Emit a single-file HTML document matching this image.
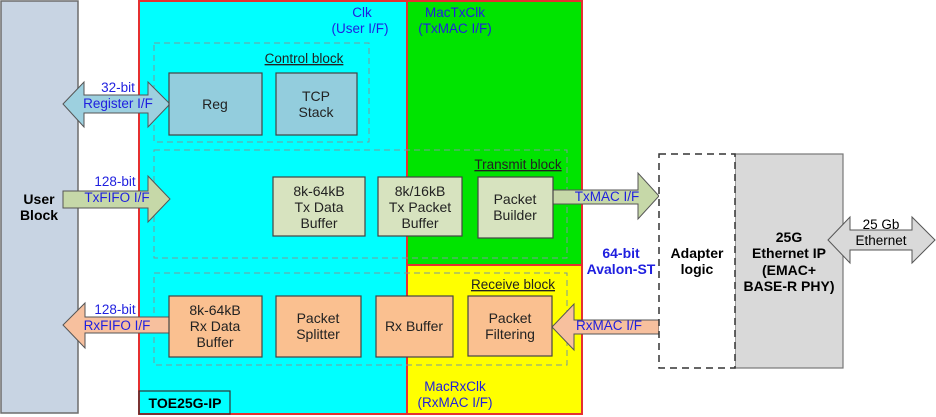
<!DOCTYPE html>
<html><head><style>body{margin:0;background:#fff}svg{display:block;font-family:"Liberation Sans",Arial,sans-serif}</style></head><body>
<svg width="936" height="417" viewBox="0 0 936 417" xmlns="http://www.w3.org/2000/svg">
<rect x="1" y="1" width="77" height="412" fill="#c8d4e3" stroke="#6d6d6d" stroke-width="1.5"/>
<text x="39" y="204" font-size="14" font-weight="bold" text-anchor="middle">User</text>
<text x="39" y="220" font-size="14" font-weight="bold" text-anchor="middle">Block</text>
<rect x="139" y="1" width="268" height="413" fill="#00ffff"/>
<rect x="407" y="1" width="175" height="264" fill="#00e400"/>
<rect x="407" y="265" width="175" height="149" fill="#ffff00"/>
<line x1="407" y1="1" x2="407" y2="414" stroke="#e53030" stroke-width="2"/>
<line x1="407" y1="265" x2="582" y2="265" stroke="#e53030" stroke-width="2"/>
<rect x="139" y="1" width="443" height="413" fill="none" stroke="#e53030" stroke-width="2"/>
<rect x="139" y="391" width="91" height="23" fill="none" stroke="#333" stroke-width="1.2"/>
<text x="185" y="408" font-size="14" font-weight="bold" text-anchor="middle">TOE25G-IP</text>
<g font-size="13.5" fill="#1f1fdf" text-anchor="middle">
<text x="362" y="17">Clk</text><text x="360" y="33">(User I/F)</text>
<text x="455" y="17">MacTxClk</text><text x="455" y="33">(TxMAC I/F)</text>
<text x="455" y="391">MacRxClk</text><text x="455" y="407">(RxMAC I/F)</text>
</g>
<g fill="none" stroke="#7a9a9a" stroke-dasharray="6,4" stroke-width="1">
<rect x="154" y="43" width="215" height="99"/>
<rect x="154" y="150" width="413" height="108"/>
<rect x="154" y="273" width="413" height="92"/>
</g>
<g font-size="13.5" text-anchor="middle" fill="#222" text-decoration="underline">
<text x="304" y="63">Control block</text>
<text x="518" y="169">Transmit block</text>
<text x="513" y="289">Receive block</text>
</g>
<polygon points="63,104 84,82 84,95 148,95 148,82 170,104 148,127 148,113 84,113 84,127" fill="#9dd0df" stroke="#555"/>
<polygon points="63,191 148,191 148,176 170,199 148,222 148,208 63,208" fill="#c6d8a8" stroke="#555"/>
<polygon points="170,317 85,317 85,303 63,325 85,348 85,333 170,333" fill="#f7c09e" stroke="#555"/>
<polygon points="553,190 638,190 638,173 659,196 638,219 638,204 553,204" fill="#c6d8a8" stroke="#555"/>
<polygon points="659,320 574,320 574,304 552,327 574,350 574,334 659,334" fill="#f7c09e" stroke="#555"/>
<g font-size="13.5" fill="#1f1fdf" text-anchor="middle">
<text x="118" y="92">32-bit</text><text x="118" y="108">Register I/F</text>
<text x="115" y="186">128-bit</text><text x="117" y="202">TxFIFO I/F</text>
<text x="115" y="314">128-bit</text><text x="117" y="330">RxFIFO I/F</text>
<text x="607" y="201">TxMAC I/F</text>
<text x="609" y="330">RxMAC I/F</text>
</g>
<g stroke="#444" stroke-width="1.2">
<rect x="169" y="73" width="93" height="62" fill="#93cddd"/>
<rect x="276" y="73" width="81" height="62" fill="#93cddd"/>
<rect x="273" y="177" width="92" height="59" fill="#d7e3bf"/>
<rect x="378" y="177" width="84" height="59" fill="#d7e3bf"/>
<rect x="478" y="177" width="75" height="61" fill="#d7e3bf"/>
<rect x="169" y="296" width="93" height="61" fill="#fac090"/>
<rect x="276" y="296" width="85" height="61" fill="#fac090"/>
<rect x="376" y="296" width="77" height="61" fill="#fac090"/>
<rect x="468" y="296" width="84" height="60" fill="#fac090"/>
</g>
<g font-size="14" text-anchor="middle" fill="#222">
<text x="215" y="109">Reg</text>
<text x="316" y="101">TCP</text><text x="316" y="117">Stack</text>
<text x="319" y="196">8k-64kB</text><text x="319" y="212">Tx Data</text><text x="319" y="228">Buffer</text>
<text x="420" y="196">8k/16kB</text><text x="420" y="212">Tx Packet</text><text x="420" y="228">Buffer</text>
<text x="515" y="204">Packet</text><text x="515" y="220">Builder</text>
<text x="215" y="315">8k-64kB</text><text x="215" y="331">Rx Data</text><text x="215" y="347">Buffer</text>
<text x="318" y="323">Packet</text><text x="318" y="339">Splitter</text>
<text x="414" y="331">Rx Buffer</text>
<text x="510" y="323">Packet</text><text x="510" y="339">Filtering</text>
</g>
<rect x="735" y="154" width="108" height="214" fill="#d9d9d9" stroke="#777" stroke-width="1.2"/>
<rect x="659" y="154" width="76" height="214" fill="#fff" stroke="#333" stroke-width="1.5" stroke-dasharray="7,5"/>
<polygon points="828,240 850,217 850,230 912,230 912,217 935,240 912,263 912,250 850,250 850,263" fill="#d9d9d9" stroke="#555"/>
<text x="881" y="229" font-size="13.5" text-anchor="middle">25 Gb</text>
<text x="881" y="245" font-size="13.5" text-anchor="middle">Ethernet</text>
<g font-size="14" font-weight="bold" text-anchor="middle">
<text x="697" y="258">Adapter</text><text x="697" y="274">logic</text>
<text x="789" y="242">25G</text><text x="789" y="258">Ethernet IP</text><text x="789" y="275">(EMAC+</text><text x="789" y="291">BASE-R PHY)</text>
<text x="621" y="258" fill="#1f1fdf">64-bit</text><text x="621" y="274" fill="#1f1fdf">Avalon-ST</text>
</g>
</svg>
</body></html>
